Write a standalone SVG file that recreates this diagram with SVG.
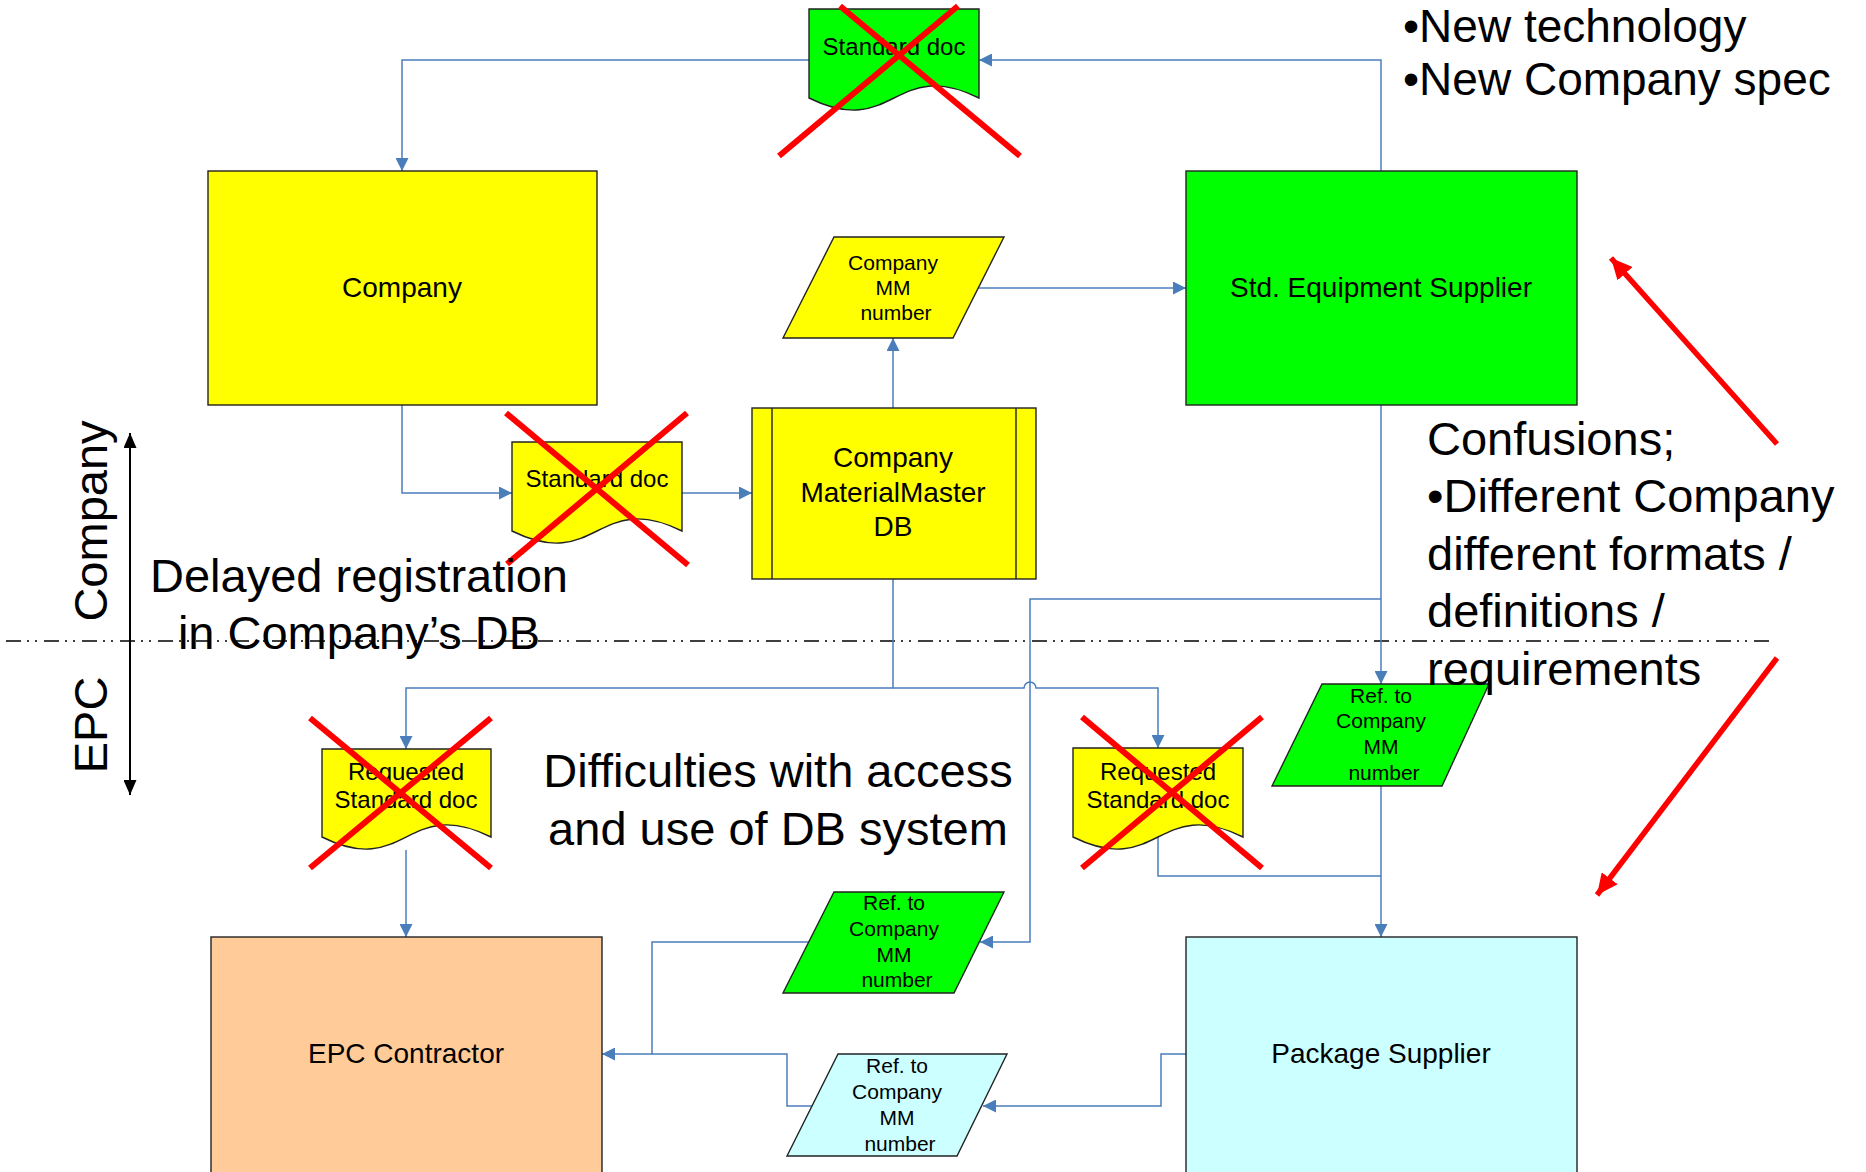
<svg xmlns="http://www.w3.org/2000/svg" width="1866" height="1172" viewBox="0 0 1866 1172">
<style>
.box{stroke:#222;stroke-width:1.4}
.t{font-family:"Liberation Sans",Arial,sans-serif;fill:#000}
.s21{font-size:21px}
.s24{font-size:24px}
.s28{font-size:28px}
.s47{font-size:47px}
.c{stroke:#4a7ebb;stroke-width:1.5;fill:none}
.x{stroke:#ff0000;stroke-width:6;fill:none}
.red{stroke:#ff0000;stroke-width:5.5;fill:none}
</style>
<defs>
<marker id="ab" markerUnits="userSpaceOnUse" markerWidth="14" markerHeight="13" refX="13" refY="6.5" orient="auto"><path d="M0,0 L13,6.5 L0,13 z" fill="#4a7ebb"/></marker>
<marker id="ak" markerUnits="userSpaceOnUse" markerWidth="15" markerHeight="13" refX="15" refY="6.5" orient="auto-start-reverse"><path d="M0,0 L15,6.5 L0,13 z" fill="#000"/></marker>
<marker id="ar" markerUnits="userSpaceOnUse" markerWidth="22" markerHeight="20" refX="21" refY="10" orient="auto"><path d="M0,0 L21,10 L0,20 z" fill="#ff0000"/></marker>
</defs>
<rect width="1866" height="1172" fill="#fff"/>

<g id="divider">
<line x1="6" y1="641" x2="1772" y2="641" stroke="#000" stroke-width="1.5" stroke-dasharray="15 6 2 6 2 7"/>
<line x1="130" y1="433" x2="130" y2="795" stroke="#000" stroke-width="2" marker-start="url(#ak)" marker-end="url(#ak)"/>
<text class="t s47" text-anchor="middle" transform="translate(107,521) rotate(-90)">Company</text>
<text class="t s47" text-anchor="middle" transform="translate(107,725) rotate(-90)">EPC</text>
</g>

<g id="connectors">
<path class="c" d="M1381,171 V60 H979" marker-end="url(#ab)"/>
<path class="c" d="M809,60 H402 V171" marker-end="url(#ab)"/>
<path class="c" d="M402,405 V493 H512" marker-end="url(#ab)"/>
<path class="c" d="M682,493 H752" marker-end="url(#ab)"/>
<path class="c" d="M893,408 V338" marker-end="url(#ab)"/>
<path class="c" d="M978,288 H1186" marker-end="url(#ab)"/>
<path class="c" d="M893,579 V688 H406 V749" marker-end="url(#ab)"/>
<path class="c" d="M893,688 H1024 A6,6 0 0 1 1036,688 H1158 V748" marker-end="url(#ab)"/>
<path class="c" d="M1381,405 V684" marker-end="url(#ab)"/>
<path class="c" d="M1381,599 H1030 V942 H980" marker-end="url(#ab)"/>
<path class="c" d="M1381,786 V937" marker-end="url(#ab)"/>
<path class="c" d="M1158,837 V876 H1381"/>
<path class="c" d="M406,850 V937" marker-end="url(#ab)"/>
<path class="c" d="M809,942 H652 V1054 H602" marker-end="url(#ab)"/>
<path class="c" d="M812,1106 H787 V1054 H652"/>
<path class="c" d="M1186,1054 H1161 V1106 H983" marker-end="url(#ab)"/>
</g>

<g id="node-company">
<rect class="box" x="208" y="171" width="389" height="234" fill="#ffff00"/>
<text class="t s28" x="402" y="297" text-anchor="middle">Company</text>
</g>

<g id="node-std-equipment-supplier">
<rect class="box" x="1186" y="171" width="391" height="234" fill="#00ff00"/>
<text class="t s28" x="1381" y="297" text-anchor="middle">Std. Equipment Supplier</text>
</g>

<g id="node-standard-doc-top">
<path class="box" d="M809,9 H979 V98 C894,56 894,140 809,98 Z" fill="#00ff00"/>
<text class="t s24" x="894" y="55" text-anchor="middle">Standard doc</text>
<line class="x" x1="840" y1="6" x2="1020" y2="156"/>
<line class="x" x1="958" y1="6" x2="779" y2="156"/>
</g>

<g id="node-company-mm-number">
<polygon class="box" points="834,237 1004,237 953,338 783,338" fill="#ffff00"/>
<text class="t s21" x="893" y="270" text-anchor="middle">Company</text>
<text class="t s21" x="893" y="295" text-anchor="middle">MM</text>
<text class="t s21" x="896" y="320" text-anchor="middle">number</text>
</g>

<g id="node-standard-doc-mid">
<path class="box" d="M512,442 H682 V531 C597,489 597,573 512,531 Z" fill="#ffff00"/>
<text class="t s24" x="597" y="487" text-anchor="middle">Standard doc</text>
<line class="x" x1="506" y1="413" x2="688" y2="565"/>
<line class="x" x1="687" y1="413" x2="507" y2="564"/>
</g>

<g id="node-company-mm-db">
<rect class="box" x="752" y="408" width="284" height="171" fill="#ffff00"/>
<line class="box" x1="772" y1="408" x2="772" y2="579"/>
<line class="box" x1="1016" y1="408" x2="1016" y2="579"/>
<text class="t s28" x="893" y="467" text-anchor="middle">Company</text>
<text class="t s28" x="893" y="502" text-anchor="middle">MaterialMaster</text>
<text class="t s28" x="893" y="536" text-anchor="middle">DB</text>
</g>

<g id="node-requested-doc-left">
<path class="box" d="M322,749 H491 V837 C406,795 406,879 322,837 Z" fill="#ffff00"/>
<text class="t s24" x="406" y="780" text-anchor="middle">Requested</text>
<text class="t s24" x="406" y="808" text-anchor="middle">Standard doc</text>
<line class="x" x1="310" y1="718" x2="491" y2="868"/>
<line class="x" x1="491" y1="718" x2="310" y2="868"/>
</g>

<g id="node-requested-doc-right">
<path class="box" d="M1073,748 H1243 V837 C1158,795 1158,879 1073,837 Z" fill="#ffff00"/>
<text class="t s24" x="1158" y="780" text-anchor="middle">Requested</text>
<text class="t s24" x="1158" y="808" text-anchor="middle">Standard doc</text>
<line class="x" x1="1082" y1="717" x2="1262" y2="868"/>
<line class="x" x1="1262" y1="717" x2="1082" y2="868"/>
</g>

<g id="node-ref-green-right">
<polygon class="box" points="1322,684 1489,684 1442,786 1272,786" fill="#00ff00"/>
<text class="t s21" x="1381" y="703" text-anchor="middle">Ref. to</text>
<text class="t s21" x="1381" y="728" text-anchor="middle">Company</text>
<text class="t s21" x="1381" y="754" text-anchor="middle">MM</text>
<text class="t s21" x="1384" y="780" text-anchor="middle">number</text>
</g>

<g id="node-ref-green-mid">
<polygon class="box" points="834,892 1004,892 954,993 783,993" fill="#00ff00"/>
<text class="t s21" x="894" y="910" text-anchor="middle">Ref. to</text>
<text class="t s21" x="894" y="936" text-anchor="middle">Company</text>
<text class="t s21" x="894" y="962" text-anchor="middle">MM</text>
<text class="t s21" x="897" y="987" text-anchor="middle">number</text>
</g>

<g id="node-ref-cyan">
<polygon class="box" points="838,1054 1007,1054 957,1156 787,1156" fill="#ccffff"/>
<text class="t s21" x="897" y="1073" text-anchor="middle">Ref. to</text>
<text class="t s21" x="897" y="1099" text-anchor="middle">Company</text>
<text class="t s21" x="897" y="1125" text-anchor="middle">MM</text>
<text class="t s21" x="900" y="1151" text-anchor="middle">number</text>
</g>

<g id="node-epc-contractor">
<rect class="box" x="211" y="937" width="391" height="250" fill="#ffcc99"/>
<text class="t s28" x="406" y="1063" text-anchor="middle">EPC Contractor</text>
</g>

<g id="node-package-supplier">
<rect class="box" x="1186" y="937" width="391" height="250" fill="#ccffff"/>
<text class="t s28" x="1381" y="1063" text-anchor="middle">Package Supplier</text>
</g>

<g id="annotations">
<text class="t" font-size="46"><tspan x="1403" y="42">•New technology</tspan><tspan x="1403" y="95">•New Company spec</tspan></text>
<text class="t s47" x="1427" y="455">Confusions;</text>
<text class="t s47" x="1427" y="512">•Different Company</text>
<text class="t s47" x="1427" y="570">different formats /</text>
<text class="t s47" x="1427" y="627">definitions /</text>
<text class="t s47" x="1427" y="685">requirements</text>
<text class="t s47" x="359" y="592" text-anchor="middle">Delayed registration</text>
<text class="t s47" x="359" y="649" text-anchor="middle">in Company’s DB</text>
<text class="t s47" x="778" y="787" text-anchor="middle">Difficulties with access</text>
<text class="t s47" x="778" y="845" text-anchor="middle">and use of DB system</text>
<line class="red" x1="1777" y1="444" x2="1611" y2="258" marker-end="url(#ar)"/>
<line class="red" x1="1777" y1="658" x2="1597" y2="895" marker-end="url(#ar)"/>
</g>
</svg>
